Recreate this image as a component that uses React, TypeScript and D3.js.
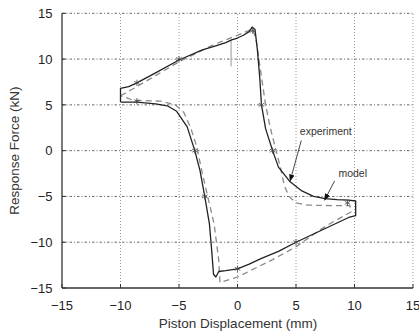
import * as d3 from "d3";

// experiment curve (solid), kN vs mm
const expX = [-10, -10, -9.3, -8.6, -7, -5, -3, -2, -1, -0.5, 0, 0.5, 1.0, 1.25, 1.5, 1.7, 1.9, 2.05, 2.4, 3.0, 3.5, 4.5, 5.5, 6.5, 7.5, 8.5, 9.5, 10.1, 10.1, 9.5, 8, 6.5, 5, 3.5, 2, 1, 0, -1, -1.6, -1.85, -2.05, -2.2, -2.4, -2.8, -3.2, -3.65, -4.3, -5.2, -6, -7, -8.6, -10];
const expY = [5.3, 6.8, 7.0, 7.4, 8.5, 9.9, 11.0, 11.4, 11.8, 12.1, 12.3, 12.6, 13.0, 13.5, 13.2, 11.0, 8.0, 5.0, 2.4, 0, -1.8, -3.4, -4.4, -5.0, -5.25, -5.35, -5.4, -5.5, -7.1, -7.3, -8.2, -9.1, -10.0, -11.0, -11.8, -12.4, -12.9, -13.1, -13.2, -13.8, -13.5, -11.0, -8.0, -5.0, -2.2, 0, 2.6, 4.3, 4.9, 5.1, 5.3, 5.3];

// model curve (dashed)
const modelX = [-10, -9, -7, -5, -2, 0, 1.3, 1.6, 2.0, 2.4, 2.8, 3.3, 3.7, 4.0, 4.4, 5.0, 6, 8, 9.6, 9.7, 8, 7, 5, 3, 0, -1.5, -1.6, -2.0, -2.4, -3.0, -3.5, -4.0, -4.6, -5.3, -6.5, -8.9, -10];
const modelY = [6.0, 6.7, 8.2, 9.7, 11.6, 12.6, 13.3, 12.0, 8.5, 5.0, 2.5, 0, -2.0, -3.8, -5.0, -5.7, -5.95, -6.0, -6.0, -6.7, -7.9, -8.7, -10.5, -11.9, -13.8, -14.4, -12.0, -8.0, -5.8, -2.5, 0.5, 2.5, 4.2, 5.0, 5.4, 5.5, 6.0];

// short transient stroke near x = 0
const spikeX = [-0.55, -0.55];
const spikeY = [9.2, 12.1];

// star markers
const starX = [-8.6, -5, 1.3, 2.05, 3.0, 9.4, 5, 0, -2.8, -3.65, -8.6];
const starY = [7.4, 10, 13.1, 5, 0, -5.7, -10, -12.9, -5, 0, 5.4];

const ticks = [-15, -10, -5, 0, 5, 10, 15];

// annotations: label, label pos, arrow start, arrow tip
const notes = [
  { label: "experiment", lx: 7.55, ly: 1.7, x1: 5.45, y1: 1.1, x2: 4.5, y2: -3.3 },
  { label: "model", lx: 9.85, ly: -2.9, x1: 8.3, y1: -3.3, x2: 7.45, y2: -5.4 },
];

export default function App() {
  const width = 419;
  const height = 332;
  const x = d3.scaleLinear().domain([-15, 15]).range([62, 413]);
  const y = d3.scaleLinear().domain([-15, 15]).range([288, 13.3]);
  const fmt = d3.format("d");

  const line = d3.line<[number, number]>().x(d => x(d[0])).y(d => y(d[1]));
  const expPath = line(expX.map((v, i) => [v, expY[i]]));
  const modelPath = line(modelX.map((v, i) => [v, modelY[i]]));
  const spikePath = line(spikeX.map((v, i) => [v, spikeY[i]]));
  const star = d3.symbol().type(d3.symbolAsterisk).size(28)();

  const font = "Liberation Sans, Arial, sans-serif";

  return (
    <svg width={width} height={height} style={{ position: "absolute", left: 0, top: 0, background: "#fff" }} fontFamily={font}>
      <defs>
        <marker id="arr" viewBox="0 0 10 10" refX="9" refY="5" markerWidth="7" markerHeight="7" orient="auto" markerUnits="userSpaceOnUse">
          <path d="M0,1 L10,5 L0,9 Z" fill="#111" />
        </marker>
      </defs>

      {/* grid */}
      {ticks.filter(t => t > -15).map(t => (
        <line key={"gx" + t} x1={x(t)} x2={x(t)} y1={y(-15)} y2={y(15)} stroke="#999" strokeWidth={1} strokeDasharray="1,2" />
      ))}
      {ticks.filter(t => t > -15).map(t => (
        <line key={"gy" + t} x1={x(-15)} x2={x(15)} y1={y(t)} y2={y(t)} stroke="#444" strokeWidth={0.8} strokeDasharray="2.5,2,1,2" />
      ))}

      {/* curves */}
      <path d={modelPath ?? ""} fill="none" stroke="#8a8a8a" strokeWidth={1.3} strokeDasharray="6,4" />
      <path d={spikePath ?? ""} fill="none" stroke="#999" strokeWidth={1} />
      <path d={expPath ?? ""} fill="none" stroke="#222" strokeWidth={1.3} strokeLinejoin="round" />
      {starX.map((v, i) => (
        <path key={"s" + i} d={star ?? ""} transform={`translate(${x(v)},${y(starY[i])})`} fill="none" stroke="#444" strokeWidth={0.8} />
      ))}

      {/* annotations */}
      {notes.map(n => (
        <g key={n.label}>
          <text x={x(n.lx)} y={y(n.ly)} textAnchor="middle" fontSize={10.5} fill="#333">{n.label}</text>
          <line x1={x(n.x1)} y1={y(n.y1)} x2={x(n.x2)} y2={y(n.y2)} stroke="#333" strokeWidth={0.9} markerEnd="url(#arr)" />
        </g>
      ))}

      {/* axes */}
      <line x1={x(-15)} x2={x(15)} y1={y(-15)} y2={y(-15)} stroke="#333" strokeWidth={1.3} />
      <line x1={x(-15)} x2={x(-15)} y1={y(-15)} y2={y(15)} stroke="#333" strokeWidth={1.3} />
      {ticks.map(t => (
        <g key={"t" + t}>
          <line x1={x(t)} x2={x(t)} y1={y(-15)} y2={y(-15) - 4} stroke="#333" />
          <line x1={x(-15)} x2={x(-15) + 4} y1={y(t)} y2={y(t)} stroke="#333" />
          <text x={x(t)} y={309.5} textAnchor="middle" fontSize={13} fill="#222">{fmt(t)}</text>
          <text x={52.5} y={y(t)} dy="0.36em" textAnchor="end" fontSize={13} fill="#222">{fmt(t)}</text>
        </g>
      ))}

      <text x={238} y={328} textAnchor="middle" fontSize={13.5} fill="#333">Piston Displacement (mm)</text>
      <text transform={`translate(19,${y(0)}) rotate(-90)`} textAnchor="middle" fontSize={13.5} fill="#333">Response Force (kN)</text>
    </svg>
  );
}
